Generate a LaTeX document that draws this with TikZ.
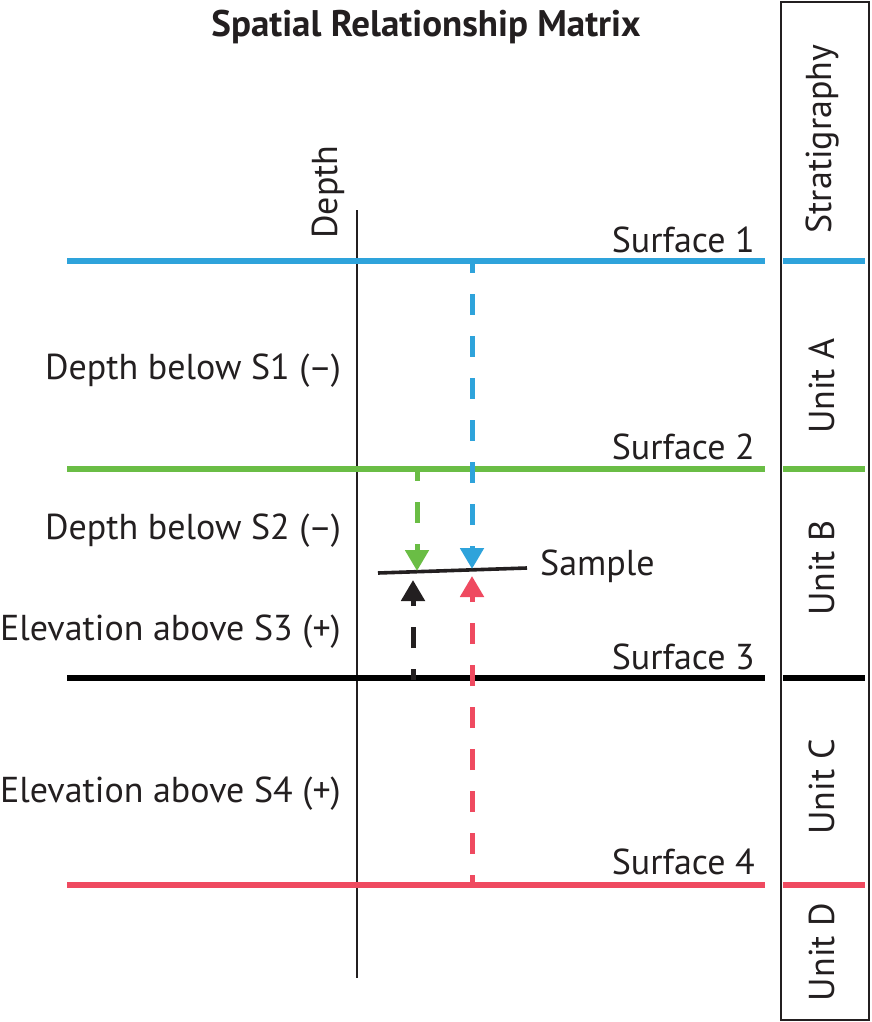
\documentclass[tikz,border=0pt]{standalone}
\usepackage{fontspec}
\setmainfont{PT Sans}
\usetikzlibrary{arrows.meta}
\definecolor{sblue}{RGB}{46,163,219}
\definecolor{sgreen}{RGB}{106,189,69}
\definecolor{sred}{RGB}{239,74,96}
\definecolor{sblack}{RGB}{0,0,0}
\definecolor{ink}{RGB}{35,31,32}
\tikzset{
  surf/.style={line width=5.5pt},
  meas/.style={line width=5pt, dash pattern=on 21pt off 21pt, dash phase=10pt, -{Triangle[width=23pt,length=21pt]}},
  lbl/.style={font=\fontsize{36}{40}\selectfont, text=ink, inner sep=0pt},
  vlbl/.style={lbl, rotate=90},
}
\begin{document}
\begin{tikzpicture}[x=1pt,y=-1pt]
\useasboundingbox (0,0) rectangle (872,1022);
% title
\node[lbl, font=\fontsize{37}{40}\selectfont\bfseries] (title) at (426,27) {Spatial Relationship Matrix};
% stratigraphy box
\draw[ink, line width=2pt] (781,2) rectangle (869,1020);
\node[vlbl] (strat) at (822,139) {Stratigraphy};
\node[vlbl] (ua) at (822,386) {Unit A};
\node[vlbl] (ub) at (822,568) {Unit B};
\node[vlbl] (uc) at (822,787) {Unit C};
\node[vlbl] (ud) at (822,952) {Unit D};
% depth axis
\coordinate (axtop) at (357,210);
\coordinate (axbot) at (357,978);
\draw[ink, line width=2pt] (axtop) -- (axbot);
\node[vlbl] (depth) at (328,192) {Depth};
% surfaces
\coordinate (s1l) at (67,261); \coordinate (s1r) at (765,261);
\coordinate (s2l) at (67,469); \coordinate (s2r) at (765,469);
\coordinate (s3l) at (67,678); \coordinate (s3r) at (765,678);
\coordinate (s4l) at (67,885); \coordinate (s4r) at (765,885);
\draw[surf, sblue] (s1l) -- (s1r);
\draw[surf, sgreen] (s2l) -- (s2r);
\draw[surf, sblack] (s3l) -- (s3r);
\draw[surf, sred] (s4l) -- (s4r);
\coordinate (c1l) at (783,261); \coordinate (c1r) at (865,261);
\coordinate (c2l) at (783,469); \coordinate (c2r) at (865,469);
\coordinate (c3l) at (783,678); \coordinate (c3r) at (865,678);
\coordinate (c4l) at (783,885); \coordinate (c4r) at (865,885);
\draw[surf, sblue] (c1l) -- (c1r);
\draw[surf, sgreen] (c2l) -- (c2r);
\draw[surf, sblack] (c3l) -- (c3r);
\draw[surf, sred] (c4l) -- (c4r);
\node[lbl, anchor=east] (sf1) at (755,240) {Surface 1};
\node[lbl, anchor=east] (sf2) at (755,447) {Surface 2};
\node[lbl, anchor=east] (sf3) at (755,657) {Surface 3};
\node[lbl, anchor=east] (sf4) at (755,862) {Surface 4};
% left labels
\node[lbl, anchor=east] (d1) at (341,371) {Depth below S1 (–)};
\node[lbl, anchor=east] (d2) at (341,531) {Depth below S2 (–)};
\node[lbl, anchor=east] (e3) at (341,632) {Elevation above S3 (+)};
\node[lbl, anchor=east] (e4) at (341,794) {Elevation above S4 (+)};
% sample
\coordinate (sampl) at (378,573);
\coordinate (sampr) at (527,568);
\draw[ink, line width=3.6pt] (sampl) -- (sampr);
\node[lbl, anchor=west] (samp) at (540,566) {Sample};
% measurement arrows
\coordinate (bt) at (472,262); \coordinate (bh) at (472,569);
\coordinate (gt) at (417,470); \coordinate (gh) at (417,571);
\coordinate (kt) at (413,680); \coordinate (kh) at (413,580);
\coordinate (rt) at (472,886); \coordinate (rh) at (472,576);
\draw[meas, sblue] (bt) -- (bh);
\draw[meas, sgreen] (gt) -- (gh);
\draw[meas, ink] (kt) -- (kh);
\draw[meas, sred] (rt) -- (rh);
\end{tikzpicture}
\end{document}
